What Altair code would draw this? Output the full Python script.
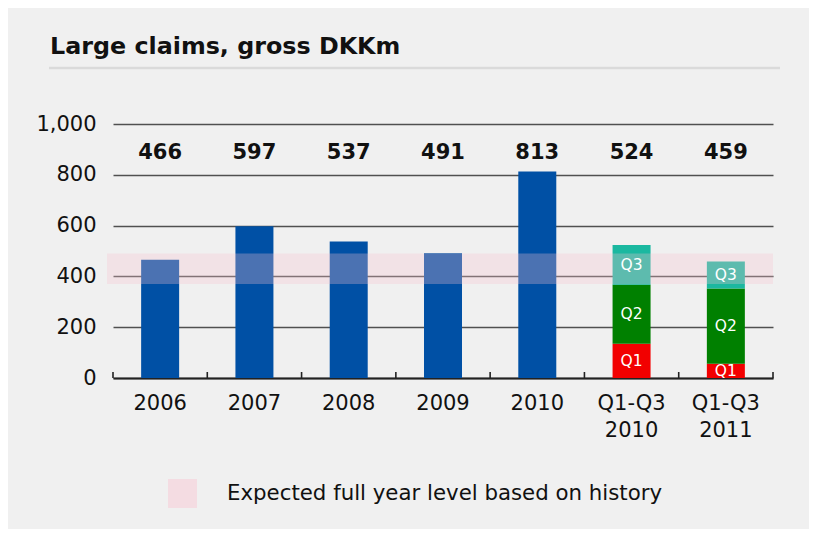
import altair as alt
import pandas as pd

# ---- data ----
categories = ["2006", "2007", "2008", "2009", "2010", "Q1-Q3 2010", "Q1-Q3 2011"]
totals = [466, 597, 537, 491, 813, 524, 459]
year_cats = ["2006", "2007", "2008", "2009", "2010"]
year_values = [466, 597, 537, 491, 813]
q_cats = ["Q1-Q3 2010", "Q1-Q3 2011"]
q1_values = [135, 56]
q2_values = [232, 296]
q3_values = [157, 107]
band_low = [370]
band_high = [490]
title_text = "Large claims, gross DKKm"
legend_label = "Expected full year level based on history"
segments = ["Total", "Q1", "Q2", "Q3"]
seg_colors = ["#0050a5", "#f20000", "#008000", "#1bb8a0"]

rows = []
for c, v in zip(year_cats, year_values):
    rows.append({"cat": c, "seg": "Total", "value": v, "ord": 0})
for i, c in enumerate(q_cats):
    rows.append({"cat": c, "seg": "Q1", "value": q1_values[i], "ord": 1})
    rows.append({"cat": c, "seg": "Q2", "value": q2_values[i], "ord": 2})
    rows.append({"cat": c, "seg": "Q3", "value": q3_values[i], "ord": 3})
bars_df = pd.DataFrame(rows)
tot_df = pd.DataFrame({"cat": categories, "total": totals})
band_df = pd.DataFrame({"lo": band_low, "hi": band_high, "label": [legend_label]})
cat_df = pd.DataFrame({"cat": categories})
last_df = pd.DataFrame({"cat": categories[-1:]})
one_df = pd.DataFrame({"a": [0]})

W, H = 660, 254
FONT = "DejaVu Sans"

xscale = alt.Scale(domain=categories, paddingInner=0, paddingOuter=0)


def xenc(**kw):
    return alt.X("cat:N", scale=xscale, sort=categories, title=None, **kw)


bars = alt.Chart(bars_df).mark_bar(width=38).encode(
    x=alt.X(
        "cat:N",
        scale=xscale,
        sort=categories,
        title=None,
        axis=alt.Axis(
            labelExpr="split(datum.label, ' ')",
            labelFont=FONT,
            labelFontSize=21,
            labelColor="#111",
            labelLineHeight=27,
            labelPadding=14,
            labelAngle=0,
            ticks=False,
            domain=True,
            domainColor="#222",
            domainWidth=2,
            grid=False,
        ),
    ),
    y=alt.Y(
        "value:Q",
        stack="zero",
        scale=alt.Scale(domain=[0, 1000], nice=False),
        title=None,
        axis=alt.Axis(
            values=[0, 200, 400, 600, 800, 1000],
            format=",.0f",
            labelFont=FONT,
            labelFontSize=21,
            labelColor="#111",
            labelPadding=17,
            ticks=False,
            domain=False,
            grid=True,
            gridColor="#505050",
            gridWidth=1.6,
        ),
    ),
    color=alt.Color("seg:N", scale=alt.Scale(domain=segments, range=seg_colors), legend=None),
    order=alt.Order("ord:Q", sort="ascending"),
)

band = alt.Chart(band_df).mark_rect(opacity=0.3).encode(
    x=alt.value(-6),
    x2=alt.value(W),
    y=alt.Y("lo:Q"),
    y2="hi:Q",
    fill=alt.Fill(
        "label:N",
        scale=alt.Scale(domain=[legend_label], range=["#f9c4d0"]),
        legend=alt.Legend(
            title=None,
            orient="none",
            legendX=55,
            legendY=355,
            symbolType="square",
            symbolSize=841,
            symbolOpacity=0.45,
            symbolStrokeWidth=0,
            labelFont=FONT,
            labelFontSize=21.3,
            labelColor="#111",
            labelOffset=30,
            labelLimit=0,
            padding=0,
        ),
    ),
)

qtext = (
    alt.Chart(bars_df)
    .transform_filter("datum.seg != 'Total'")
    .transform_stack(stack="value", groupby=["cat"], as_=["v0", "v1"], sort=[alt.SortField("ord", "ascending")])
    .transform_calculate(mid="(datum.v0 + datum.v1) / 2")
    .mark_text(font=FONT, fontSize=15.5, color="white", baseline="middle")
    .encode(x=xenc(), y=alt.Y("mid:Q"), text="seg:N")
)

labels = alt.Chart(tot_df).mark_text(
    font=FONT, fontSize=21, fontWeight="bold", color="#111", baseline="middle"
).encode(x=xenc(), y=alt.value(29), text=alt.Text("total:Q"))

ticks = alt.Chart(cat_df).mark_rule(color="#222", strokeWidth=1.6).encode(
    x=xenc(bandPosition=0), y=alt.value(H), y2=alt.value(H - 6)
)
ticks_end = alt.Chart(last_df).mark_rule(color="#222", strokeWidth=1.6).encode(
    x=xenc(bandPosition=1), y=alt.value(H), y2=alt.value(H - 6)
)

underline = alt.Chart(one_df).mark_rule(color="#dadada", strokeWidth=2.5).encode(
    x=alt.value(-64), x2=alt.value(667), y=alt.value(-56)
)

chart = (
    alt.layer(underline, bars, band, qtext, labels, ticks, ticks_end)
    .properties(
        width=W,
        height=H,
        autosize=alt.AutoSizeParams(type="none"),
        padding={"left": 105, "top": 116, "right": 36, "bottom": 151},
        title=alt.TitleParams(
            title_text,
            anchor="start",
            frame="group",
            font=FONT,
            fontSize=23.8,
            fontWeight="bold",
            color="#111",
            dx=-63,
            offset=8,
        ),
        background="#f0f0f0",
    )
    .configure_view(stroke=None)
)

chart.save("out.html", embed_options={"renderer": "svg", "actions": False})
